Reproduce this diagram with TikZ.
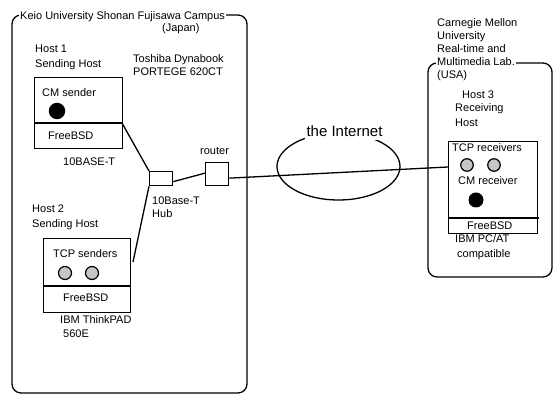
\documentclass[tikz,border=0pt]{standalone}
\usepackage{fontspec}
\setmainfont{Liberation Sans}
\usetikzlibrary{shapes.geometric}
\begin{document}
\begin{tikzpicture}[x=1pt,y=-1pt,
  lbl/.style={anchor=base west,inner sep=0pt,font=\fontsize{11}{13}\selectfont},
  ttl/.style={lbl,fill=white,inner xsep=1pt,inner ysep=2pt},
  bx/.style={draw,line width=1.3pt,inner sep=0pt,anchor=north west},
  ln/.style={line width=1.3pt},
  frame/.style={draw,line width=1.3pt,rounded corners=9pt},
  blk/.style={circle,fill=black,inner sep=0pt},
  hat/.style={circle,draw,line width=1.2pt,fill=gray!45,inner sep=0pt,minimum size=13pt}]
\useasboundingbox (0,0) rectangle (558,395);
\fill[white] (0,0) rectangle (558,395);
% frames
\draw[frame] (12,15) rectangle (247,393);
\draw[frame] (428,63) rectangle (552,277);
\node[ttl] (keio) at (19,20) {Keio University Shonan Fujisawa Campus};
\node[lbl] (japan) at (162,32) {(Japan)};
\node[lbl] (cmu1) at (437,27) {Carnegie Mellon};
\node[lbl] (cmu2) at (437,40) {University};
\node[lbl] (cmu3) at (437,53) {Real-time and};
\node[ttl] (cmu4) at (436,66) {Multimedia Lab.};
\node[lbl] (cmu5) at (437,79) {(USA)};
% Host 1
\node[lbl] (h1a) at (35,53) {Host 1};
\node[lbl] (h1b) at (35,68) {Sending Host};
\node[lbl] (tosh1) at (133,63) {Toshiba Dynabook};
\node[lbl] (tosh2) at (133,76) {PORTEGE 620CT};
\node[bx,minimum width=88pt,minimum height=71pt] (host1) at (34,77) {};
\draw[ln] (34,123) -- (122,123);
\node[lbl] (cms) at (42,97) {CM sender};
\node[blk,minimum size=16.5pt] (cmsdot) at (57,111) {};
\node[lbl] (fb1) at (48,140) {FreeBSD};
\node[lbl] (tb1) at (63,166) {10BASE-T};
\coordinate (h1port) at (122,123);
% hub and router
\node[bx,minimum width=23pt,minimum height=14pt] (hub) at (149,171) {};
\node[bx,minimum width=23pt,minimum height=23pt] (router) at (205,162) {};
\node[lbl] (rtr) at (200,155) {router};
\node[lbl] (hubl1) at (152,205) {10Base-T};
\node[lbl] (hubl2) at (152,218) {Hub};
% Host 2
\node[lbl] (h2a) at (32,213) {Host 2};
\node[lbl] (h2b) at (32,228) {Sending Host};
\node[bx,minimum width=87pt,minimum height=74pt] (host2) at (43,238) {};
\draw[ln] (43,286) -- (130,286);
\node[lbl] (tcps) at (53,258) {TCP senders};
\node[hat] (s1) at (65,273) {};
\node[hat] (s2) at (92,273) {};
\node[lbl] (fb2) at (63,302) {FreeBSD};
\node[lbl] (ibm1) at (60,324) {IBM ThinkPAD};
\node[lbl] (ibm2) at (63,338) {560E};
\coordinate (h2port) at (133,262);
% Internet
\node[draw,ellipse,line width=1.3pt,minimum width=123pt,minimum height=67pt,inner sep=0pt] (internet) at (338.5,166.5) {};
% Host 3
\node[lbl] (h3a) at (462,99) {Host 3};
\node[lbl] (h3b) at (455,112) {Receiving};
\node[lbl] (h3c) at (455,127) {Host};
\node[bx,minimum width=89pt,minimum height=92pt] (host3) at (448,141) {};
\draw[ln] (448,218) -- (539,218);
\node[lbl] (tcpr) at (452,152) {TCP receivers};
\node[hat,minimum size=12.5pt] (r1) at (467,165) {};
\node[hat,minimum size=12.5pt] (r2) at (494,165) {};
\node[lbl] (cmr) at (458,185) {CM receiver};
\node[blk,minimum size=15pt] (cmrdot) at (476,200) {};
\node[lbl] (fb3) at (467,230) {FreeBSD};
\node[lbl] (pc1) at (455,243) {IBM PC/AT};
\node[lbl] (pc2) at (457,258) {compatible};
\coordinate (h3port) at (448,167);
% connectors
\draw[ln] (h1port) -- (hub.north west);
\draw[ln] (hub.south west) -- (h2port);
\draw[ln] ([yshift=-3pt]hub.east) -- ([yshift=1pt]router.west);
\draw[ln] ([yshift=-4pt]router.east) -- (h3port);
\node[anchor=base,inner xsep=2pt,inner ysep=3pt,fill=white,font=\fontsize{15}{17}\selectfont] (inetl) at (344.5,137) {the Internet};
\end{tikzpicture}
\end{document}
